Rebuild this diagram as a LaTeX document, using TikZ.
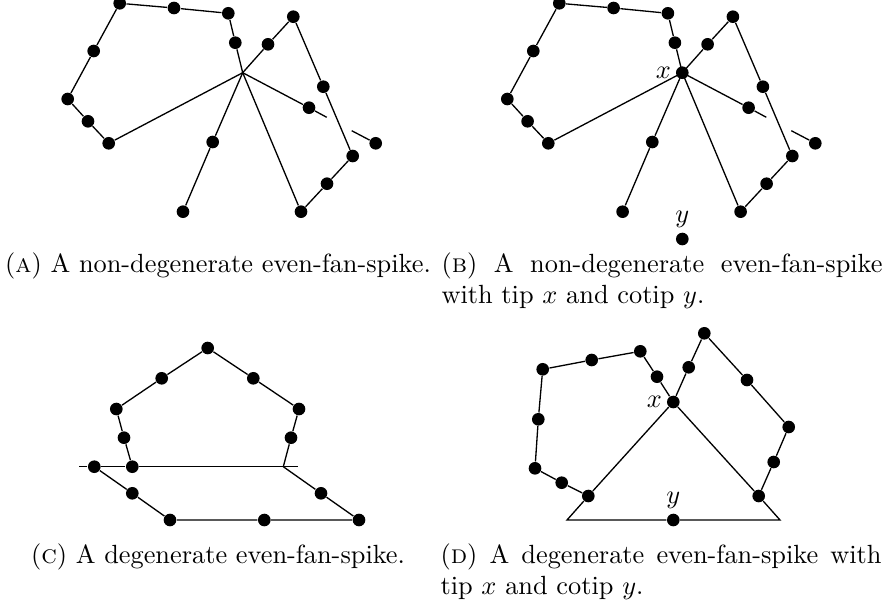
\documentclass[tikz,border=0pt]{standalone}
\usetikzlibrary{positioning}
\tikzset{
  fs@vtx/.style={circle, fill=black, inner sep=0pt, minimum size=4.8pt},
  fs@edge/.style={line width=0.5pt, black},
  fs@lbl/.style={font=\normalsize, inner sep=1.5pt},
  fs@cap/.style={font=\normalsize, inner sep=0pt},
}
% the non-degenerate spike, drawn twice (#1 = name prefix)
\newcommand{\fsspike}[1]{%
  \coordinate (#1h) at (242.7,72.7);
  \node[fs@vtx] (#1a1) at (235.3,42.7) {};
  \node[fs@vtx] (#1a2) at (228.3,13.3) {};
  \node[fs@vtx] (#1a3) at (174,8) {};
  \node[fs@vtx] (#1a4) at (119.7,3.3) {};
  \node[fs@vtx] (#1a5) at (93.7,51) {};
  \node[fs@vtx] (#1a6) at (67.7,99) {};
  \node[fs@vtx] (#1a7) at (88,121.3) {};
  \node[fs@vtx] (#1a8) at (108.7,143.3) {};
  \node[fs@vtx] (#1b1) at (268,44.3) {};
  \node[fs@vtx] (#1b2) at (293.3,16.7) {};
  \node[fs@vtx] (#1b3) at (323.3,86.7) {};
  \node[fs@vtx] (#1b4) at (352.7,156) {};
  \node[fs@vtx] (#1b5) at (327,183.7) {};
  \node[fs@vtx] (#1b6) at (301,211.7) {};
  \node[fs@vtx] (#1c1) at (309,107.7) {};
  \coordinate (#1s1) at (326.7,117.3);
  \coordinate (#1s2) at (351.7,130.7);
  \node[fs@vtx] (#1c2) at (375.7,143.3) {};
  \node[fs@vtx] (#1d1) at (212.7,142) {};
  \node[fs@vtx] (#1d2) at (183,211.7) {};
  \draw[fs@edge] (#1h) -- (#1a1) -- (#1a2) -- (#1a3) -- (#1a4) -- (#1a5)
    -- (#1a6) -- (#1a7) -- (#1a8) -- (#1h);
  \draw[fs@edge] (#1h) -- (#1b1) -- (#1b2) -- (#1b3) -- (#1b4) -- (#1b5)
    -- (#1b6) -- (#1h);
  \draw[fs@edge] (#1h) -- (#1c1) -- (#1s1);
  \draw[fs@edge] (#1s2) -- (#1c2);
  \draw[fs@edge] (#1h) -- (#1d1) -- (#1d2);
}

\begin{document}
\begin{tikzpicture}[x=0.38pt, y=-0.38pt]
  \useasboundingbox (0,0) rectangle (882,608);

  % (a)
  \fsspike{A}
  \node[fs@cap, anchor=base] (capA) at (218,272)
    {(\textsc{a}) A non-degenerate even-fan-spike.};

  % (b)
  \begin{scope}[shift={(439.6,0)}]
    \fsspike{B}
    \node[fs@vtx, label={[fs@lbl]left:$x$}] (Bx) at (242.7,72.7) {};
    \node[fs@vtx, label={[fs@lbl]above:$y$}] (By) at (242.7,239) {};
  \end{scope}
  \node[fs@cap, anchor=base west, text width=167.6pt, align=justify] (capB) at (441,272)
    {(\textsc{b}) A non-degenerate even-fan-spike\linebreak with tip $x$ and cotip $y$.};

  % (c)
  \node[fs@vtx] (p0) at (94.3,466.7) {};
  \node[fs@vtx] (p1) at (132.3,466.7) {};
  \node[fs@vtx] (p2) at (124,437.7) {};
  \node[fs@vtx] (p3) at (116.3,409) {};
  \node[fs@vtx] (p4) at (161.7,378.3) {};
  \node[fs@vtx] (p5) at (207.7,348) {};
  \node[fs@vtx] (p6) at (253.3,378.3) {};
  \node[fs@vtx] (p7) at (299,409) {};
  \node[fs@vtx] (p8) at (291,437.7) {};
  \coordinate (q) at (283.3,466.7);
  \node[fs@vtx] (r1) at (132.3,493.3) {};
  \node[fs@vtx] (r2) at (170,520) {};
  \node[fs@vtx] (r3) at (264.3,520) {};
  \node[fs@vtx] (r4) at (359,520) {};
  \node[fs@vtx] (r5) at (321,493.3) {};
  \coordinate (l1) at (79,466.7);
  \coordinate (l2) at (298.3,466.7);
  \draw[fs@edge] (l1) -- (p0) -- (p1) -- (l2);
  \draw[fs@edge] (p1) -- (p2) -- (p3) -- (p4) -- (p5) -- (p6) -- (p7) -- (p8) -- (q);
  \draw[fs@edge] (p0) -- (r1) -- (r2) -- (r3) -- (r4) -- (r5) -- (q);
  \node[fs@cap, anchor=base] (capC) at (218,563)
    {(\textsc{c}) A degenerate even-fan-spike.};

  % (d)
  \node[fs@vtx, label={[fs@lbl]left:$x$}] (Dx) at (673.3,402) {};
  \node[fs@vtx] (e1) at (657,376.7) {};
  \node[fs@vtx] (e2) at (640.3,351.3) {};
  \node[fs@vtx] (e3) at (591.7,360) {};
  \node[fs@vtx] (e4) at (542.7,369.3) {};
  \node[fs@vtx] (e5) at (538.3,419.3) {};
  \node[fs@vtx] (e6) at (535,468.3) {};
  \node[fs@vtx] (e7) at (561.7,482.7) {};
  \node[fs@vtx] (e8) at (588.3,496) {};
  \node[fs@vtx] (f1) at (688.7,367.3) {};
  \node[fs@vtx] (f2) at (704.3,333.3) {};
  \node[fs@vtx] (f3) at (747,380) {};
  \node[fs@vtx] (f4) at (788.7,427) {};
  \node[fs@vtx] (f5) at (773.7,462) {};
  \node[fs@vtx] (f6) at (758.7,496) {};
  \coordinate (t1) at (567,520);
  \coordinate (t2) at (780,520);
  \node[fs@vtx, label={[fs@lbl]above:$y$}] (Dy) at (673.3,520) {};
  \draw[fs@edge] (Dx) -- (e1) -- (e2) -- (e3) -- (e4) -- (e5) -- (e6) -- (e7) -- (e8);
  \draw[fs@edge] (Dx) -- (f1) -- (f2) -- (f3) -- (f4) -- (f5) -- (f6);
  \draw[fs@edge] (Dx) -- (e8) -- (t1) -- (Dy) -- (t2) -- (f6) -- (Dx);
  \node[fs@cap, anchor=base west, text width=167.6pt, align=justify] (capD) at (440,563)
    {(\textsc{d}) A degenerate even-fan-spike with\linebreak tip $x$ and cotip $y$.};
\end{tikzpicture}
\end{document}
